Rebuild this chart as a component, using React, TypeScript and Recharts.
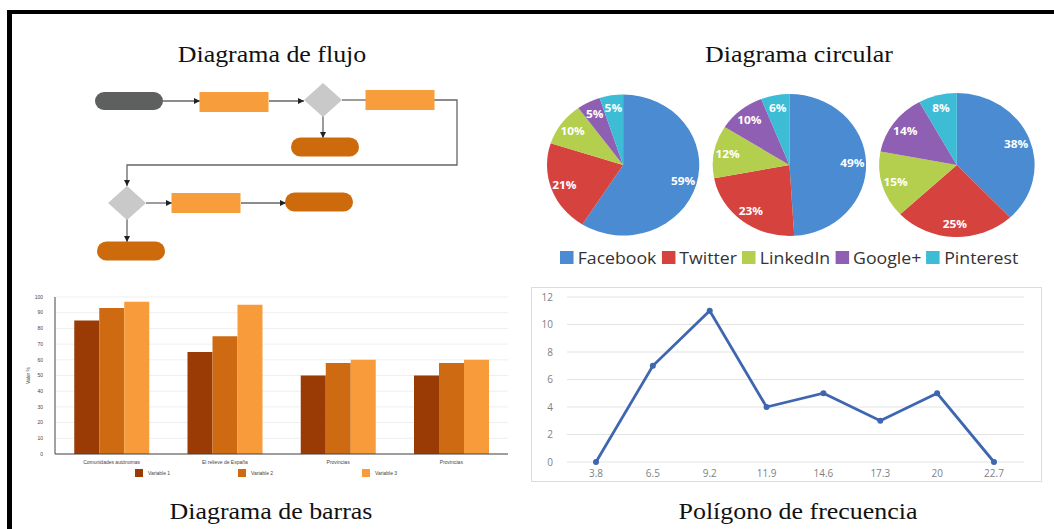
import React from "react";
import {
  Bar,
  BarChart,
  CartesianGrid,
  Cell,
  Label,
  Line,
  LineChart,
  Pie,
  PieChart,
  Scatter,
  ScatterChart,
  XAxis,
  YAxis,
} from "recharts";

// ---- Diagrama de flujo (node centres in panel units) ----
const flowNodes = [
  { id: "inicio", x: 116, y: 26, kind: "start" },
  { id: "proceso1", x: 221, y: 27, kind: "process" },
  { id: "decision1", x: 310, y: 25, kind: "decision" },
  { id: "proceso2", x: 387, y: 25, kind: "process" },
  { id: "fin1", x: 312, y: 72, kind: "end" },
  { id: "decision2", x: 114, y: 128, kind: "decision" },
  { id: "proceso3", x: 193, y: 128, kind: "process" },
  { id: "fin2", x: 306, y: 127, kind: "end" },
  { id: "fin3", x: 118, y: 176, kind: "end" },
];

const flowEdges = [
  { arrow: true, points: [[150, 26], [187, 26]] },
  { arrow: true, points: [[256, 26], [291, 26]] },
  { arrow: false, points: [[329, 25], [354, 25]] },
  { arrow: true, points: [[310, 41], [310, 63]] },
  { arrow: true, points: [[421, 25], [444, 25], [444, 90], [114, 90], [114, 111]] },
  { arrow: true, points: [[133, 128], [159, 128]] },
  { arrow: true, points: [[228, 128], [273, 128]] },
  { arrow: true, points: [[114, 144], [114, 167]] },
];

// ---- Diagrama circular ----
const networks = ["Facebook", "Twitter", "LinkedIn", "Google+", "Pinterest"];
const networkColors = ["#4a8bd2", "#d6433f", "#b4cf4e", "#8f5fb3", "#3dbcd6"];
const pieShare1 = [59, 21, 10, 5, 5];
const pieShare2 = [49, 23, 12, 10, 6];
const pieShare3 = [38, 25, 15, 14, 8];

// ---- Diagrama de barras ----
const barCategories = [
  "Comunidades autónomas",
  "El relieve de España",
  "Provincias",
  "Provincias",
];
const variable1 = [85, 65, 50, 50];
const variable2 = [93, 75, 58, 58];
const variable3 = [97, 95, 60, 60];
const barTicks = [0, 10, 20, 30, 40, 50, 60, 70, 80, 90, 100];

// ---- Polígono de frecuencia ----
const classMarks = ["3.8", "6.5", "9.2", "11.9", "14.6", "17.3", "20", "22.7"];
const frequencies = [0, 7, 11, 4, 5, 3, 5, 0];
const freqTicks = [0, 2, 4, 6, 8, 10, 12];

const barColors = ["#9a3b06", "#cd6a12", "#f89b3a"];

// the source picture is stretched a little horizontally
const STRETCH = 1.08;

const edgeData = flowEdges.map((e) =>
  e.points.map(([x, y], i, arr) => {
    let head: string | null = null;
    if (e.arrow && i === arr.length - 1) {
      const [px, py] = arr[i - 1];
      head = x > px ? "right" : x < px ? "left" : y > py ? "down" : "up";
    }
    return { x, y, head };
  })
);

function ArrowHead(props: any) {
  const { cx, cy, payload } = props;
  if (!payload || !payload.head) return <g />;
  const L = 6;
  const W = 3;
  let pts = "";
  if (payload.head === "right") pts = `${cx},${cy} ${cx - L},${cy - W} ${cx - L},${cy + W}`;
  if (payload.head === "left") pts = `${cx},${cy} ${cx + L},${cy - W} ${cx + L},${cy + W}`;
  if (payload.head === "down") pts = `${cx},${cy} ${cx - W},${cy - L} ${cx + W},${cy - L}`;
  if (payload.head === "up") pts = `${cx},${cy} ${cx - W},${cy + L} ${cx + W},${cy + L}`;
  return <polygon points={pts} fill="#222" />;
}

function FlowNode(props: any) {
  const { cx, cy, payload } = props;
  switch (payload.kind) {
    case "start":
      return <rect x={cx - 34} y={cy - 9} width={68} height={18} rx={9} fill="#5e6060" />;
    case "end":
      return <rect x={cx - 34} y={cy - 9.5} width={68} height={19} rx={9.5} fill="#cd6a0c" />;
    case "process":
      return <rect x={cx - 34.5} y={cy - 10} width={69} height={20} fill="#f89d3b" />;
    default:
      return (
        <polygon
          points={`${cx},${cy - 17} ${cx + 19},${cy} ${cx},${cy + 17} ${cx - 19},${cy}`}
          fill="#c9c9c9"
        />
      );
  }
}

const RADIAN = Math.PI / 180;
function PieLabel(props: any) {
  const { cx, cy, midAngle, outerRadius, value } = props;
  const r = outerRadius * 0.82;
  const x = cx + r * Math.cos(-midAngle * RADIAN);
  const y = cy + r * Math.sin(-midAngle * RADIAN);
  return (
    <text
      x={x}
      y={y}
      fill="#fff"
      fontSize={11}
      fontWeight={700}
      fontFamily="'Open Sans', sans-serif"
      textAnchor="middle"
      dominantBaseline="central"
    >
      {`${value}%`}
    </text>
  );
}

const titleStyle: React.CSSProperties = {
  position: "absolute",
  fontFamily: "'Liberation Serif', 'Times New Roman', serif",
  fontSize: 24,
  lineHeight: "24px",
  color: "#111",
  whiteSpace: "nowrap",
  transform: `translateX(-50%) scaleX(${STRETCH})`,
};

export default function App() {
  const pies = [pieShare1, pieShare2, pieShare3].map((shares) =>
    shares.map((value, i) => ({ name: networks[i], value }))
  );
  const pieCx = [84, 238, 393];
  const pieR = [70.5, 71, 72];

  const barData = barCategories.map((name, i) => ({
    name,
    v1: variable1[i],
    v2: variable2[i],
    v3: variable3[i],
  }));

  const freqData = classMarks.map((mark, i) => ({ mark, f: frequencies[i] }));

  return (
    <div
      style={{
        position: "absolute",
        left: 0,
        top: 0,
        width: 1054,
        height: 529,
        background: "#fff",
        overflow: "hidden",
      }}
    >
      {/* frame */}
      <div style={{ position: "absolute", left: 7, top: 10, right: 0, height: 4, background: "#000" }} />
      <div style={{ position: "absolute", left: 7, top: 10, width: 5, bottom: 0, background: "#000" }} />

      {/* titles */}
      <div style={{ ...titleStyle, left: 272, top: 42 }}>Diagrama de flujo</div>
      <div style={{ ...titleStyle, left: 799, top: 42 }}>Diagrama circular</div>
      <div style={{ ...titleStyle, left: 271, top: 499 }}>Diagrama de barras</div>
      <div style={{ ...titleStyle, left: 798, top: 499 }}>Polígono de frecuencia</div>

      {/* flow chart */}
      <div style={{ position: "absolute", left: 13, top: 75 }}>
        <ScatterChart width={514} height={195} margin={{ top: 0, right: 0, bottom: 0, left: 0 }}>
          <XAxis type="number" dataKey="x" domain={[0, 514]} hide />
          <YAxis type="number" dataKey="y" domain={[0, 195]} reversed hide />
          {edgeData.map((pts, i) => (
            <Scatter
              key={`e${i}`}
              data={pts}
              fill="#666"
              line={{ stroke: "#666", strokeWidth: 1.3 }}
              shape={ArrowHead}
              isAnimationActive={false}
            />
          ))}
          <Scatter data={flowNodes} shape={FlowNode} isAnimationActive={false} />
        </ScatterChart>
      </div>

      {/* pie charts */}
      <div
        style={{
          position: "absolute",
          left: 527,
          top: 70,
          transform: `scaleX(${STRETCH})`,
          transformOrigin: "0 0",
        }}
      >
        <PieChart width={488} height={182}>
          {pies.map((data, k) => (
            <Pie
              key={k}
              data={data}
              dataKey="value"
              nameKey="name"
              cx={pieCx[k]}
              cy={90}
              outerRadius={pieR[k]}
              startAngle={90}
              endAngle={-270}
              stroke="none"
              label={PieLabel}
              labelLine={false}
              isAnimationActive={false}
            >
              {data.map((d, i) => (
                <Cell key={d.name} fill={networkColors[i]} />
              ))}
            </Pie>
          ))}
        </PieChart>
      </div>
      <div
        style={{
          position: "absolute",
          left: 560,
          top: 246,
          display: "flex",
          alignItems: "center",
          fontFamily: "'Open Sans', sans-serif",
          fontSize: 17,
          color: "#333",
          whiteSpace: "nowrap",
          transform: "scaleX(1.04)",
          transformOrigin: "0 0",
        }}
      >
        {networks.map((n, i) => (
          <div key={n} style={{ display: "flex", alignItems: "center", marginRight: 5 }}>
            <span style={{ width: 13, height: 13, background: networkColors[i], marginRight: 4 }} />
            <span>{n}</span>
          </div>
        ))}
      </div>

      {/* bar chart */}
      <div style={{ position: "absolute", left: 13, top: 285 }}>
        <BarChart
          width={514}
          height={195}
          data={barData}
          margin={{ top: 12, right: 19, bottom: 16, left: 0 }}
          barCategoryGap="17%"
          barGap={0}
        >
          <CartesianGrid vertical={false} stroke="#efefef" />
          <XAxis
            dataKey="name"
            height={10}
            tickLine={false}
            tickSize={0}
            tickMargin={6}
            axisLine={{ stroke: "#444" }}
            tick={{ fontSize: 5, fill: "#444", fontFamily: "'Liberation Sans', Arial, sans-serif" }}
          />
          <YAxis
            width={42}
            domain={[0, 100]}
            ticks={barTicks}
            interval={0}
            tickLine={false}
            tickSize={0}
            tickMargin={12}
            axisLine={{ stroke: "#444" }}
            tick={{ fontSize: 5, fill: "#444", fontFamily: "'Liberation Sans', Arial, sans-serif" }}
          >
            <Label
              value="Valor %"
              angle={-90}
              position="center"
              dx={-6}
              style={{ fontSize: 5, fill: "#444", fontFamily: "'Liberation Sans', Arial, sans-serif" }}
            />
          </YAxis>
          <Bar dataKey="v1" name="Variable 1" fill={barColors[0]} isAnimationActive={false} />
          <Bar dataKey="v2" name="Variable 2" fill={barColors[1]} isAnimationActive={false} />
          <Bar dataKey="v3" name="Variable 3" fill={barColors[2]} isAnimationActive={false} />
        </BarChart>
      </div>
      <div
        style={{
          position: "absolute",
          left: 135,
          top: 469,
          display: "flex",
          alignItems: "center",
          fontFamily: "'Liberation Sans', Arial, sans-serif",
          fontSize: 5,
          color: "#444",
        }}
      >
        {["Variable 1", "Variable 2", "Variable 3"].map((v, i) => (
          <div key={v} style={{ display: "flex", alignItems: "center", width: i === 0 ? 103 : 124 }}>
            <span style={{ width: 8, height: 8, background: barColors[i], marginRight: 5 }} />
            <span>{v}</span>
          </div>
        ))}
      </div>

      {/* frequency polygon */}
      <div
        style={{
          position: "absolute",
          left: 531,
          top: 287,
          width: 511,
          height: 195,
          border: "1px solid #dcdcdc",
          boxSizing: "border-box",
        }}
      >
        <LineChart
          width={509}
          height={193}
          data={freqData}
          margin={{ top: 9, right: 17, bottom: 2, left: 5 }}
        >
          <CartesianGrid vertical={false} stroke="#e3e3e3" />
          <XAxis
            dataKey="mark"
            height={17}
            padding={{ left: 29, right: 30 }}
            axisLine={false}
            tickLine={false}
            tickSize={0}
            tickMargin={8}
            tick={{ fontSize: 10, fill: "#7f7f7f", fontFamily: "'Open Sans', sans-serif" }}
          />
          <YAxis
            width={30}
            domain={[0, 12]}
            ticks={freqTicks}
            interval={0}
            axisLine={false}
            tickLine={false}
            tickSize={0}
            tickMargin={14}
            tick={{ fontSize: 10, fill: "#7f7f7f", fontFamily: "'Open Sans', sans-serif" }}
          />
          <Line
            type="linear"
            dataKey="f"
            stroke="#3f66b0"
            strokeWidth={2.8}
            dot={{ r: 3, fill: "#3f66b0", stroke: "#3f66b0", strokeWidth: 0 }}
            isAnimationActive={false}
          />
        </LineChart>
      </div>
    </div>
  );
}
